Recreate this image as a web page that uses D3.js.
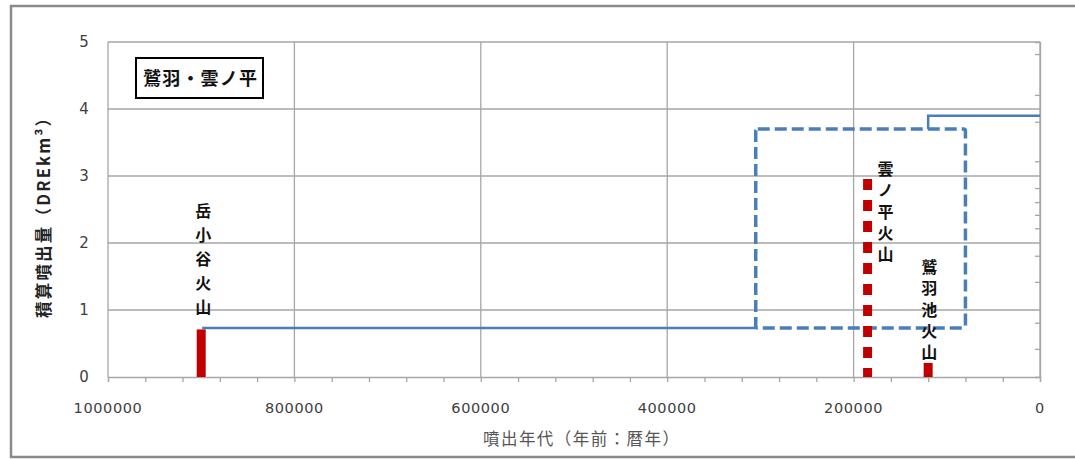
<!DOCTYPE html>
<html><head><meta charset="utf-8">
<script src="https://cdn.jsdelivr.net/npm/d3@7"></script>
<style>
html,body{margin:0;padding:0;background:#fff;}
svg{display:block;}
</style></head>
<body>
<svg id="chart" width="1075" height="459"></svg>
<script>
// ---- data ----
const legendTitle = "鷲羽・雲ノ平";
const yAxisTitle = "積算噴出量（DREkm³）";
const xAxisTitle = "噴出年代（年前：暦年）";
const xTickValues = [1000000, 800000, 600000, 400000, 200000, 0];
const xMinorStep = 40000;
const yTickValues = [0, 1, 2, 3, 4, 5];
const rightMinorTicks = [0.42, 0.81, 1.42, 1.81, 2.22, 2.42, 2.61, 2.82, 3.22, 3.81, 4.21, 4.82];
// volcano eruptions
const volcanoNames = ["岳小谷火山", "雲ノ平火山", "鷲羽池火山"];
const volcanoAges = [900000, 185000, 120000];
const volcanoVolumes = [0.71, 3.0, 0.21];
const volcanoUncertain = [false, true, false];
// cumulative volume (step line)
const cumAgesA = [899000, 305000];
const cumValuesA = [0.73, 0.73];
const cumAgesB = [120000, 120000, 0];
const cumValuesB = [3.7, 3.9, 3.9];
// uncertainty box of cumulative volume
const boxAges = [305000, 80000];
const boxValues = [0.73, 3.7];

// ---- layout ----
const svg = d3.select("#chart");
const L = 108, R = 1040, T = 42, B = 377;
const x = d3.scaleLinear().domain([1000000, 0]).range([L, R]);
const y = d3.scaleLinear().domain([0, 5]).range([B, T]);
const jp = "'Noto Sans CJK JP', 'Noto Sans', sans-serif";
const num = "'DejaVu Sans', 'Liberation Sans', sans-serif";

// outer frame
svg.append("rect").attr("x", 11).attr("y", 6).attr("width", 1080).attr("height", 451)
  .attr("fill", "#fff").attr("stroke", "#8a8a8a").attr("stroke-width", 2.5);

// horizontal gridlines
svg.append("g").selectAll("line").data(yTickValues.filter(d => d > 0)).join("line")
  .attr("x1", L).attr("x2", R).attr("y1", d => y(d)).attr("y2", d => y(d))
  .attr("stroke", "#a6a6a6").attr("stroke-width", 1.3);
// vertical gridlines
svg.append("g").selectAll("line").data(xTickValues.filter(d => d < 1000000)).join("line")
  .attr("x1", d => x(d)).attr("x2", d => x(d)).attr("y1", T).attr("y2", B)
  .attr("stroke", "#a6a6a6").attr("stroke-width", 1.3);
// left axis line
svg.append("line").attr("x1", L).attr("x2", L).attr("y1", T).attr("y2", B)
  .attr("stroke", "#a6a6a6").attr("stroke-width", 1.3);

// x axis (bottom)
const xMinor = d3.range(0, 1000001, xMinorStep);
const xAxis = d3.axisBottom(x).tickValues(xMinor).tickSize(5).tickFormat("");
const gx = svg.append("g").attr("transform", `translate(0,${B})`).call(xAxis);
gx.select(".domain").attr("stroke", "#a6a6a6").attr("stroke-width", 1.3);
gx.selectAll(".tick line").attr("stroke", "#a6a6a6").attr("stroke-width", 1.3);
svg.append("g").selectAll("text").data(xTickValues).join("text")
  .attr("x", d => x(d)).attr("y", 413)
  .attr("text-anchor", "middle")
  .attr("font-family", num).attr("font-size", 14.5).attr("letter-spacing", 0.6)
  .attr("fill", "#404040").text(d => String(d));

// y axis labels
svg.append("g").selectAll("text").data(yTickValues).join("text")
  .attr("x", 84).attr("y", d => y(d) + 5)
  .attr("text-anchor", "middle")
  .attr("font-family", num).attr("font-size", 15)
  .attr("fill", "#404040").text(d => d);

// right axis with minor ticks
const yRight = d3.axisLeft(y).tickValues(rightMinorTicks).tickSize(5).tickFormat("");
const gr = svg.append("g").attr("transform", `translate(${R},0)`).call(yRight);
gr.select(".domain").attr("stroke", "#a6a6a6").attr("stroke-width", 1.3);
gr.selectAll(".tick line").attr("stroke", "#a6a6a6").attr("stroke-width", 1.3);

// axis titles
svg.append("text")
  .attr("transform", `translate(50,214) rotate(-90)`)
  .attr("text-anchor", "middle")
  .attr("font-family", jp).attr("font-size", 16.5).attr("font-weight", 700)
  .attr("textLength", 208).attr("lengthAdjust", "spacing")
  .attr("fill", "#222").text(yAxisTitle);
svg.append("text")
  .attr("x", 581).attr("y", 445)
  .attr("text-anchor", "middle")
  .attr("font-family", jp).attr("font-size", 16.5)
  .attr("textLength", 196).attr("lengthAdjust", "spacing")
  .attr("fill", "#555").text(xAxisTitle);

// legend box
svg.append("rect").attr("x", 136).attr("y", 58).attr("width", 127).attr("height", 40)
  .attr("fill", "#fff").attr("stroke", "#000").attr("stroke-width", 2);
svg.append("text").attr("x", 200).attr("y", 85)
  .attr("text-anchor", "middle")
  .attr("font-family", jp).attr("font-size", 18).attr("font-weight", 700)
  .attr("textLength", 114).attr("lengthAdjust", "spacing")
  .attr("fill", "#111").text(legendTitle);

// cumulative step lines
const line = d3.line().x(d => x(d[0])).y(d => y(d[1]));
const blue = "#4a7ebb";
svg.append("path").datum(cumAgesA.map((a, i) => [a, cumValuesA[i]]))
  .attr("d", line).attr("fill", "none").attr("stroke", blue).attr("stroke-width", 2.5);
svg.append("path").datum(cumAgesB.map((a, i) => [a, cumValuesB[i]]))
  .attr("d", line).attr("fill", "none").attr("stroke", blue).attr("stroke-width", 2.5);
// dashed uncertainty box
svg.append("rect")
  .attr("x", x(boxAges[0])).attr("y", y(boxValues[1]))
  .attr("width", x(boxAges[1]) - x(boxAges[0]))
  .attr("height", y(boxValues[0]) - y(boxValues[1]))
  .attr("rx", 2)
  .attr("fill", "none").attr("stroke", blue).attr("stroke-width", 3.5)
  .attr("stroke-dasharray", "12,5");

// eruption bars
const red = "#c00000";
volcanoAges.forEach((age, i) => {
  const ln = svg.append("line")
    .attr("x1", x(age)).attr("x2", x(age))
    .attr("y1", y(0)).attr("y2", y(volcanoVolumes[i]))
    .attr("stroke", red).attr("stroke-width", 9);
  if (volcanoUncertain[i]) ln.attr("stroke-dasharray", "11,10").attr("stroke-dashoffset", 2);
});

// vertical labels (single text each, vertical writing mode)
const labelPlacement = [
  {dx: 2, top: 203, len: 112},   // 岳小谷火山
  {dx: 18, top: 161, len: 101},  // 雲ノ平火山
  {dx: 1, top: 259, len: 101}    // 鷲羽池火山
];
volcanoNames.forEach((name, i) => {
  const p = labelPlacement[i];
  svg.append("text")
    .attr("x", x(volcanoAges[i]) + p.dx).attr("y", p.top)
    .style("writing-mode", "vertical-rl")
    .attr("text-anchor", "start")
    .attr("font-family", jp).attr("font-size", 16).attr("font-weight", 700)
    .attr("letter-spacing", (p.len - 16 * name.length) / (name.length - 1))
    .attr("fill", "#111")
    .text(name);
});
</script>
</body></html>
